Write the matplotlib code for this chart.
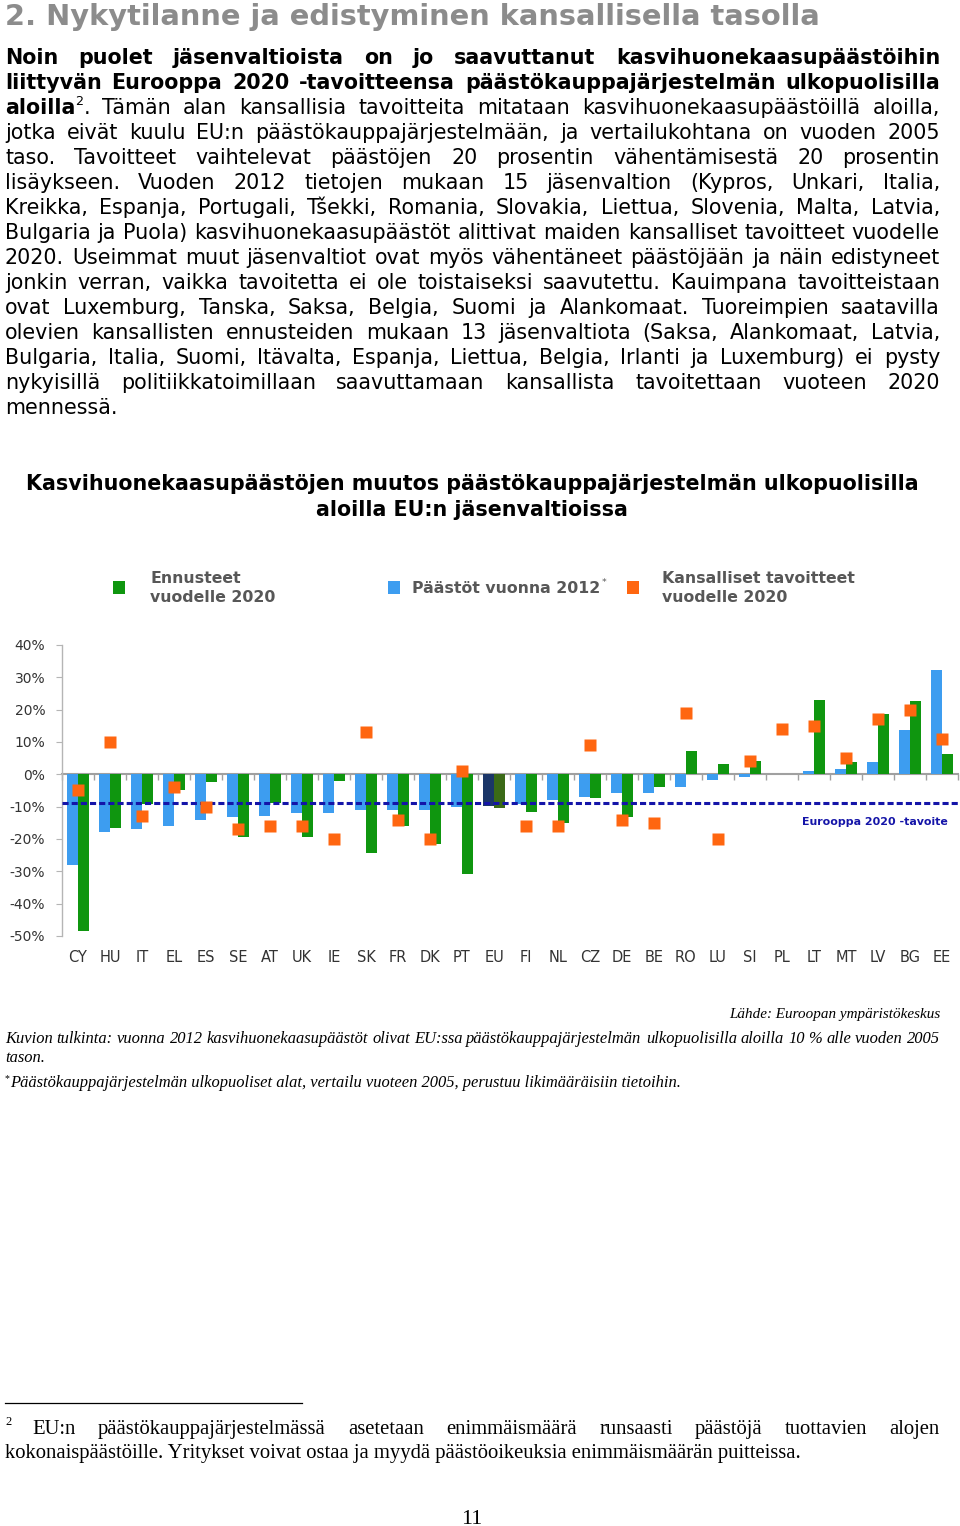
import numpy as np
import matplotlib
matplotlib.use('Agg')
import matplotlib.pyplot as plt
from matplotlib.lines import Line2D
from matplotlib.patches import Rectangle

W, H, DPI = 960, 1526, 100

# ---------------- data ----------------
countries = ['CY', 'HU', 'IT', 'EL', 'ES', 'SE', 'AT', 'UK', 'IE', 'SK', 'FR', 'DK', 'PT', 'EU',
             'FI', 'NL', 'CZ', 'DE', 'BE', 'RO', 'LU', 'SI', 'PL', 'LT', 'MT', 'LV', 'BG', 'EE']
emissions_2012 = [-28.1, -17.8, -16.9, -16.1, -14.1, -13.1, -12.8, -12.0, -12.0, -11.0, -11.0, -11.0,
                  -10.0, -9.8, -9.2, -7.9, -6.9, -5.9, -5.7, -3.8, -1.9, -0.7, np.nan, 1.1, 1.8, 3.8,
                  13.8, 32.3]
projections_2020 = [-48.6, -16.5, -9.2, -4.8, -2.5, -19.3, -8.8, -19.3, -2.1, -24.3, -15.9, -21.5,
                    -30.9, -10.4, -11.8, -15.1, -7.2, -13.3, -3.8, 7.3, 3.2, 4.2, np.nan, 23.0, 3.8,
                    18.6, 22.7, 6.2]
national_targets_2020 = [-5, 10, -13, -4, -10, -17, -16, -16, -20, 13, -14, -20, 1, np.nan, -16, -16,
                         9, -14, -15, 19, -20, 4, 14, 15, 5, 17, 20, 11]
europe_2020_target = -9
ytick_values = [40, 30, 20, 10, 0, -10, -20, -30, -40, -50]
ytick_labels = [f'{v}%' for v in ytick_values]

legend_labels = ['Ennusteet\nvuodelle 2020', 'Päästöt vuonna 2012', 'Kansalliset tavoitteet\nvuodelle 2020']
chart_title = ['Kasvihuonekaasupäästöjen muutos päästökauppajärjestelmän ulkopuolisilla',
               'aloilla EU:n jäsenvaltioissa']
target_label = 'Eurooppa 2020 -tavoite'

# colours
BLUE, GREEN, ORANGE = '#3d9df0', '#0f960f', '#ff6610'
EU_BLUE, EU_GREEN = '#1b3668', '#3b6a17'
NAVY = '#1414a8'

fig = plt.figure(figsize=(W / DPI, H / DPI), dpi=DPI)
fig.patch.set_facecolor('white')
renderer = fig.canvas.get_renderer()


def fx(x):
    return x / W


def fy(y):
    return 1 - y / H


def text_width(s, **kw):
    t = fig.text(0, 0, s, **kw)
    w = t.get_window_extent(renderer).width
    t.remove()
    return w


def fit_size(s, width, base=12.0, **kw):
    return base * width / text_width(s, fontsize=base, **kw)


def tokenize(segments):
    words = [[]]
    for text, style in segments:
        parts = text.split(' ')
        for i, p in enumerate(parts):
            if i > 0:
                words.append([])
            if p:
                words[-1].append((p, style))
    return [w for w in words if w]


def place_line(y, segments, x0, x1, fs, family, justify=True, color='black', fstyle='normal'):
    words = tokenize(segments)

    def props(style):
        if style == 'sup':
            return dict(fontsize=fs * 0.62, fontweight='normal'), -fs * 0.45 * DPI / 72
        return dict(fontsize=fs, fontweight=style), 0.0

    widths = []
    for w in words:
        tot = 0
        for t, st in w:
            kw, _ = props(st)
            tot += text_width(t, family=family, style=fstyle, **kw)
        widths.append(tot)
    if justify and len(words) > 1:
        gap = (x1 - x0 - sum(widths)) / (len(words) - 1)
    else:
        kw, _ = props(segments[0][1])
        gap = text_width('a a', family=family, style=fstyle, **kw) - text_width('aa', family=family, style=fstyle, **kw)
    x = x0
    for w, wd in zip(words, widths):
        xx = x
        for t, st in w:
            kw, dy = props(st)
            fig.text(fx(xx), fy(y + dy), t, ha='left', va='baseline', family=family,
                     style=fstyle, color=color, **kw)
            xx += text_width(t, family=family, style=fstyle, **kw)
        x += wd + gap


SANS = 'DejaVu Sans'
SERIF = 'Liberation Serif'

# ---------------- heading ----------------
heading = '2. Nykytilanne ja edistyminen kansallisella tasolla'
hs = fit_size(heading, 813, family=SANS, fontweight='bold')
fig.text(fx(5), fy(25), heading, family=SANS, fontweight='bold', fontsize=hs, color='#8c8c8c',
         ha='left', va='baseline')

# ---------------- paragraph ----------------
para = [
    [('Noin puolet jäsenvaltioista on jo saavuttanut kasvihuonekaasupäästöihin', 'bold')],
    [('liittyvän Eurooppa 2020 -tavoitteensa päästökauppajärjestelmän ulkopuolisilla', 'bold')],
    [('aloilla', 'bold'), ('2', 'sup'),
     ('. Tämän alan kansallisia tavoitteita mitataan kasvihuonekaasupäästöillä aloilla,', 'normal')],
    [('jotka eivät kuulu EU:n päästökauppajärjestelmään, ja vertailukohtana on vuoden 2005', 'normal')],
    [('taso. Tavoitteet vaihtelevat päästöjen 20 prosentin vähentämisestä 20 prosentin', 'normal')],
    [('lisäykseen. Vuoden 2012 tietojen mukaan 15 jäsenvaltion (Kypros, Unkari, Italia,', 'normal')],
    [('Kreikka, Espanja, Portugali, Tšekki, Romania, Slovakia, Liettua, Slovenia, Malta, Latvia,', 'normal')],
    [('Bulgaria ja Puola) kasvihuonekaasupäästöt alittivat maiden kansalliset tavoitteet vuodelle', 'normal')],
    [('2020. Useimmat muut jäsenvaltiot ovat myös vähentäneet päästöjään ja näin edistyneet', 'normal')],
    [('jonkin verran, vaikka tavoitetta ei ole toistaiseksi saavutettu. Kauimpana tavoitteistaan', 'normal')],
    [('ovat Luxemburg, Tanska, Saksa, Belgia, Suomi ja Alankomaat. Tuoreimpien saatavilla', 'normal')],
    [('olevien kansallisten ennusteiden mukaan 13 jäsenvaltiota (Saksa, Alankomaat, Latvia,', 'normal')],
    [('Bulgaria, Italia, Suomi, Itävalta, Espanja, Liettua, Belgia, Irlanti ja Luxemburg) ei pysty', 'normal')],
    [('nykyisillä politiikkatoimillaan saavuttamaan kansallista tavoitettaan vuoteen 2020', 'normal')],
    [('mennessä.', 'normal')],
]
# choose a size so that every line fits with normal word spacing
ps = min(fit_size(''.join(t for t, _ in segs), 928, family=SANS,
                  fontweight=('bold' if segs[0][1] == 'bold' and len(segs) == 1 else 'normal'))
         for segs in para[:-1])
for i, segs in enumerate(para):
    place_line(64 + 25 * i, segs, 5, 940, ps, SANS, justify=(i < len(para) - 1))

# ---------------- chart title ----------------
ts = fit_size(chart_title[0], 889, family=SANS, fontweight='bold')
for i, line in enumerate(chart_title):
    fig.text(fx(472), fy(490 + 26 * i), line, family=SANS, fontweight='bold', fontsize=ts,
             ha='center', va='baseline', color='black')

# ---------------- legend ----------------
ls = fit_size('Kansalliset tavoitteet', 191, family=SANS, fontweight='bold')
LEG_GREY = '#575757'
for (sx, col) in [(113, GREEN), (388, BLUE), (627, ORANGE)]:
    fig.add_artist(Rectangle((fx(sx), fy(594)), 12 / W, 13 / H, transform=fig.transFigure,
                             facecolor=col, edgecolor='none'))
for lx, lab in [(150, legend_labels[0]), (662, legend_labels[2])]:
    for j, part in enumerate(lab.split('\n')):
        fig.text(fx(lx), fy(583 + 19 * j), part, family=SANS, fontweight='bold', fontsize=ls,
                 color=LEG_GREY, ha='left', va='baseline')
fig.text(fx(412), fy(593), legend_labels[1], family=SANS, fontweight='bold', fontsize=ls,
         color=LEG_GREY, ha='left', va='baseline')
pw = text_width(legend_labels[1], family=SANS, fontweight='bold', fontsize=ls)
fig.text(fx(412 + pw + 1), fy(585), '*', family=SANS, fontsize=ls * 0.6, color=LEG_GREY,
         ha='left', va='baseline')

# ---------------- axes ----------------
ax = fig.add_axes([fx(62), fy(936), (958 - 62) / W, (936 - 645) / H])
x = np.arange(len(countries))
ax.set_xlim(-0.5, len(countries) - 0.5)
ax.set_ylim(-50, 40)
ax.set_facecolor('white')

blue_cols = [EU_BLUE if c == 'EU' else BLUE for c in countries]
green_cols = [EU_GREEN if c == 'EU' else GREEN for c in countries]
bw = 0.34
ax.bar(x - bw / 2, emissions_2012, width=bw, color=blue_cols, zorder=2)
ax.bar(x + bw / 2, projections_2020, width=bw, color=green_cols, zorder=2)
ax.axhline(europe_2020_target, color=NAVY, lw=2.2, dashes=(2.0, 1.0), zorder=3)
ax.plot(x, national_targets_2020, ls='none', marker='s', ms=8.6, color=ORANGE, mec='none',
        zorder=4, clip_on=False)

for sp in ['top', 'right', 'bottom']:
    ax.spines[sp].set_visible(False)
ax.spines['left'].set_color('#b5b5b5')
ax.spines['left'].set_linewidth(1)

ax.set_yticks(ytick_values)
ax.set_yticklabels(ytick_labels)
ax.tick_params(axis='y', length=4, color='#b5b5b5', labelcolor='#333333', labelsize=10, pad=8)
for t in ax.get_yticklabels():
    t.set_family(SANS)

ax.set_xticks(x)
ax.set_xticklabels(countries)
ax.tick_params(axis='x', length=0, pad=10, labelsize=10.5, labelcolor='#333333')

zero_frac = (0 - (-50)) / 90
sec = ax.secondary_xaxis(zero_frac)
sec.set_alignment('bottom')
sec.set_xticks(np.arange(len(countries) + 1) - 0.5)
sec.tick_params(axis='x', length=4, width=1, direction='out', color='#a0a0a0',
                labelbottom=False, labeltop=False)
sec.spines['bottom'].set_color('#a0a0a0')
sec.spines['bottom'].set_linewidth(1.5)

es = fit_size(target_label, 145, family=SANS, fontweight='bold')
fig.text(fx(948), fy(825), target_label, family=SANS, fontweight='bold', fontsize=es,
         color=NAVY, ha='right', va='baseline')

# ---------------- notes below chart ----------------
note_long = 'Päästökauppajärjestelmän ulkopuoliset alat, vertailu vuoteen 2005, perustuu likimääräisiin tietoihin.'
ns = fit_size(note_long, 669, family=SERIF, style='italic')
fig.text(fx(940), fy(1018), 'Lähde: Euroopan ympäristökeskus', family=SERIF, style='italic',
         fontsize=ns * 0.92, ha='right', va='baseline')
place_line(1043, [('Kuvion tulkinta: vuonna 2012 kasvihuonekaasupäästöt olivat EU:ssa päästökauppajärjestelmän '
                   'ulkopuolisilla aloilla 10 % alle vuoden 2005', 'normal')], 5, 940, ns, SERIF,
           justify=True, fstyle='italic')
place_line(1062, [('tason.', 'normal')], 5, 940, ns, SERIF, justify=False, fstyle='italic')
fig.text(fx(5), fy(1081), '*', family=SERIF, fontsize=ns * 0.6, ha='left', va='baseline')
fig.text(fx(10), fy(1087), note_long, family=SERIF, style='italic', fontsize=ns, ha='left', va='baseline')

# ---------------- footnote ----------------
fig.add_artist(Line2D([fx(5), fx(302)], [fy(1403), fy(1403)], color='black', lw=0.9,
                      transform=fig.transFigure))
fn2 = 'kokonaispäästöille. Yritykset voivat ostaa ja myydä päästöoikeuksia enimmäismäärän puitteissa.'
fs_ = fit_size(fn2, 797, family=SERIF)
fig.text(fx(5), fy(1425), '2', family=SERIF, fontsize=fs_ * 0.6, ha='left', va='baseline')
place_line(1434, [('EU:n päästökauppajärjestelmässä asetetaan enimmäismäärä runsaasti päästöjä '
                   'tuottavien alojen', 'normal')], 32, 940, fs_, SERIF, justify=True)
fig.text(fx(5), fy(1458), fn2, family=SERIF, fontsize=fs_, ha='left', va='baseline')

pn = fit_size('11', 21, family=SERIF)
fig.text(fx(472), fy(1524), '11', family=SERIF, fontsize=pn, ha='center', va='baseline')

fig.savefig('out.png', dpi=DPI, facecolor='white')
